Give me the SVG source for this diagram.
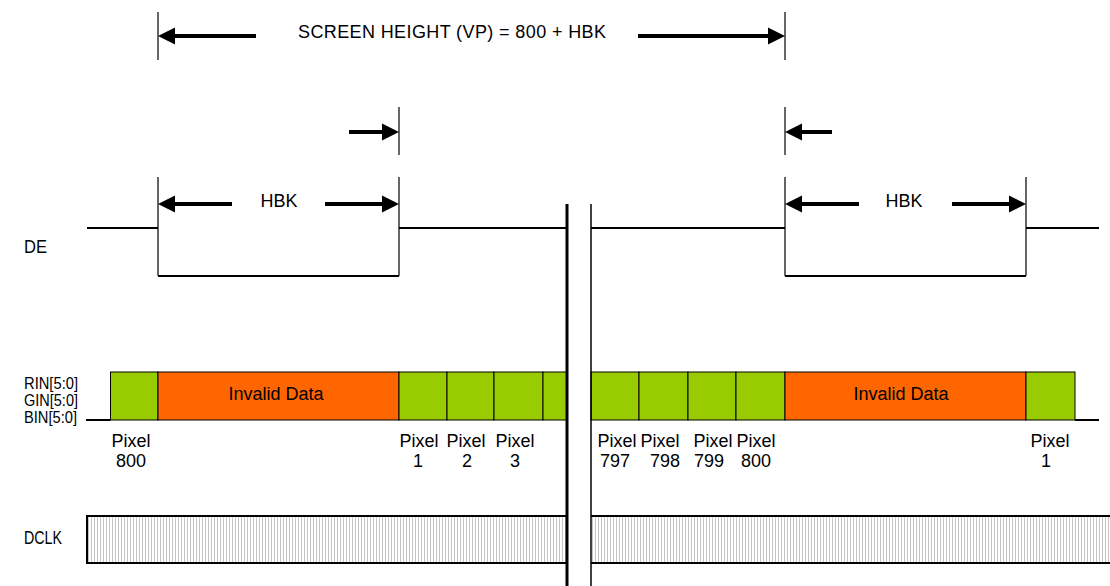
<svg xmlns="http://www.w3.org/2000/svg" width="1110" height="586" viewBox="0 0 1110 586">
<defs>
<marker id="ah" markerUnits="userSpaceOnUse" markerWidth="18" markerHeight="18" refX="0" refY="9" orient="auto">
<path d="M0,0.5 L17,9 L0,17.5 z" fill="#000"/>
</marker>
<pattern id="hatch" patternUnits="userSpaceOnUse" x="0" y="0" width="3" height="10">
<rect width="3" height="10" fill="#fff"/>
<rect x="1" width="1" height="10" fill="#c4c4c4"/>
</pattern>
<style>
text{font-family:"Liberation Sans",Arial,sans-serif;font-size:18px;fill:#000}
.m{text-anchor:middle}
.lb{font-size:17px}
.arrow{stroke:#000;stroke-width:4;fill:none;marker-end:url(#ah)}
.dim{stroke:#000;stroke-width:1.2;fill:none}
.sig{stroke:#000;stroke-width:2;fill:none}
.g{fill:#99cc00;stroke:#000;stroke-width:1}
.o{fill:#ff6600;stroke:#000;stroke-width:1}
</style>
</defs>
<rect width="1110" height="586" fill="#fff"/>

<g id="labels">
<text x="24" y="253" textLength="23" lengthAdjust="spacingAndGlyphs">DE</text>
<text class="lb" x="24" y="389" textLength="54" lengthAdjust="spacingAndGlyphs">RIN[5:0]</text>
<text class="lb" x="24" y="406" textLength="54" lengthAdjust="spacingAndGlyphs">GIN[5:0]</text>
<text class="lb" x="24" y="423" textLength="53" lengthAdjust="spacingAndGlyphs">BIN[5:0]</text>
<text x="24" y="544" textLength="38" lengthAdjust="spacingAndGlyphs">DCLK</text>
</g>

<g id="dimension-lines">
<line class="dim" x1="158" y1="12" x2="158" y2="60"/>
<line class="dim" x1="785" y1="12" x2="785" y2="60"/>
<line class="dim" x1="399" y1="107" x2="399" y2="155"/>
<line class="dim" x1="785" y1="107" x2="785" y2="155"/>
<text class="m" x="452" y="38" textLength="308" lengthAdjust="spacing">SCREEN HEIGHT (VP) = 800 + HBK</text>
</g>

<g id="connectors">
<line class="arrow" x1="256" y1="36" x2="175" y2="36"/>
<line class="arrow" x1="638" y1="36" x2="768" y2="36"/>
<line class="arrow" x1="349" y1="132" x2="382" y2="132"/>
<line class="arrow" x1="832" y1="132" x2="802" y2="132"/>
<line class="arrow" x1="232" y1="204" x2="175" y2="204"/>
<line class="arrow" x1="325" y1="204" x2="382" y2="204"/>
<line class="arrow" x1="859" y1="204" x2="802" y2="204"/>
<line class="arrow" x1="952" y1="204" x2="1009" y2="204"/>
</g>

<g id="de">
<path class="sig" d="M87,228 H158 M158,276 H399 M399,228 H567 M591,228 H785 M785,276 H1026 M1026,228 H1099"/>
<path class="dim" d="M158,177 V276 M399,177 V276 M785,177 V276 M1026,177 V276"/>
<text class="m" x="279" y="207">HBK</text>
<text class="m" x="904" y="207">HBK</text>
</g>

<g id="data">
<path class="sig" d="M86,420 H110.5 M1075,420 H1099"/>
<rect class="g" x="110.5" y="372" width="47.5" height="48"/>
<rect class="o" x="158" y="372" width="241" height="48"/>
<rect class="g" x="399" y="372" width="48" height="48"/>
<rect class="g" x="447" y="372" width="47" height="48"/>
<rect class="g" x="494" y="372" width="49" height="48"/>
<rect class="g" x="543" y="372" width="24" height="48"/>
<rect class="g" x="591" y="372" width="48" height="48"/>
<rect class="g" x="639" y="372" width="49" height="48"/>
<rect class="g" x="688" y="372" width="48" height="48"/>
<rect class="g" x="736" y="372" width="49" height="48"/>
<rect class="o" x="785" y="372" width="241" height="48"/>
<rect class="g" x="1026" y="372" width="49" height="48"/>
<text class="m" x="276" y="400">Invalid Data</text>
<text class="m" x="901" y="400">Invalid Data</text>
</g>

<g id="pixel-labels">
<text class="m" x="131" y="447">Pixel</text><text class="m" x="131" y="467">800</text>
<text class="m" x="419" y="447">Pixel</text><text class="m" x="418" y="467">1</text>
<text class="m" x="466" y="447">Pixel</text><text class="m" x="467" y="467">2</text>
<text class="m" x="515" y="447">Pixel</text><text class="m" x="515" y="467">3</text>
<text class="m" x="617" y="447">Pixel</text><text class="m" x="615" y="467">797</text>
<text class="m" x="660" y="447">Pixel</text><text class="m" x="665" y="467">798</text>
<text class="m" x="713" y="447">Pixel</text><text class="m" x="709" y="467">799</text>
<text class="m" x="756" y="447">Pixel</text><text class="m" x="756" y="467">800</text>
<text class="m" x="1050" y="447">Pixel</text><text class="m" x="1046" y="467">1</text>
</g>

<g id="dclk">
<rect x="87" y="516" width="480" height="47" fill="url(#hatch)"/>
<rect x="591" y="516" width="519" height="47" fill="url(#hatch)"/>
<path class="sig" d="M86,516 H567 M86,563 H567 M87,515 V564 M591,516 H1110 M591,563 H1110"/>
</g>

<g id="break">
<line x1="567" y1="204" x2="567" y2="586" stroke="#000" stroke-width="3"/>
<line x1="591" y1="204" x2="591" y2="586" stroke="#000" stroke-width="1.5"/>
</g>
</svg>
